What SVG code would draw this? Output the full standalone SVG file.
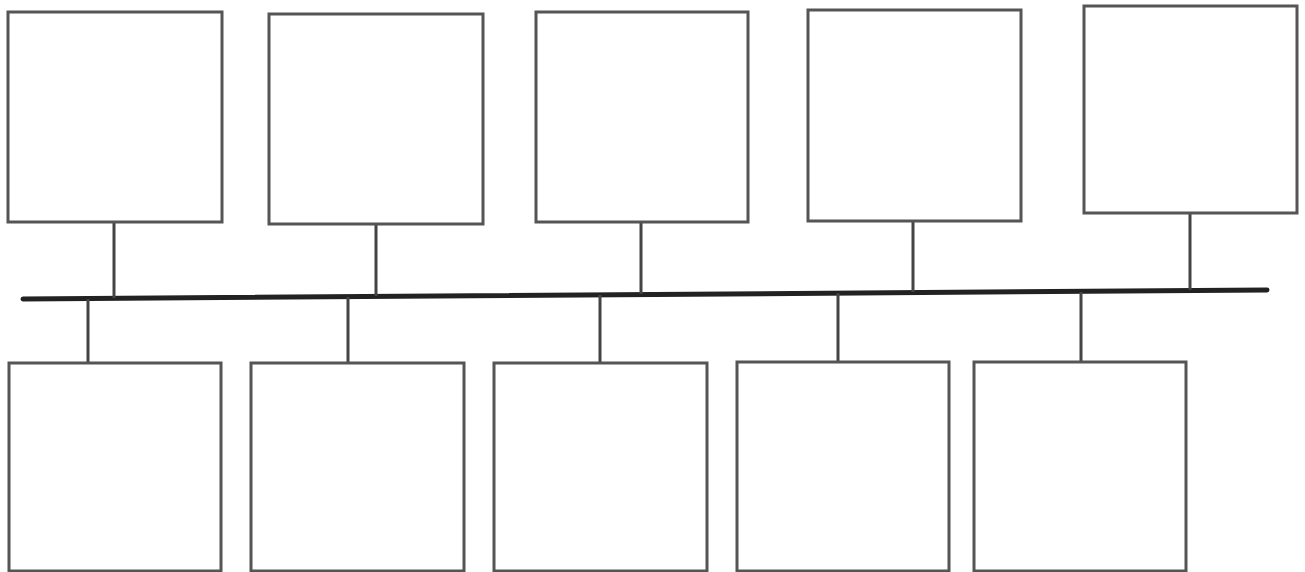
<svg xmlns="http://www.w3.org/2000/svg" width="1305" height="572" viewBox="0 0 1305 572">
<style>
.box{fill:#fff;stroke:#555;stroke-width:3}
.link{stroke:#444;stroke-width:3;fill:none}
.bus{stroke:#222;stroke-width:5;fill:none;stroke-linecap:round}
</style>
<rect width="1305" height="572" fill="#fff"/>
<g id="connectors">
<path class="bus" d="M23 299 L1267 290"/>
<path class="link" d="M114 222 V298 M376 224 V296 M641 222 V294 M913 220 V292 M1190 213 V290"/>
<path class="link" d="M88 299 V363 M348 297 V363 M600 295 V363 M838 293 V362 M1081 292 V362"/>
</g>
<g id="t1"><rect class="box" x="8" y="12" width="214" height="210"/></g>
<g id="t2"><rect class="box" x="269" y="14" width="214" height="210"/></g>
<g id="t3"><rect class="box" x="536" y="12" width="212" height="210"/></g>
<g id="t4"><rect class="box" x="808" y="10" width="213" height="211"/></g>
<g id="t5"><rect class="box" x="1084" y="6" width="213" height="207"/></g>
<g id="b1"><rect class="box" x="9" y="363" width="212" height="208"/></g>
<g id="b2"><rect class="box" x="251" y="363" width="213" height="208"/></g>
<g id="b3"><rect class="box" x="494" y="363" width="213" height="208"/></g>
<g id="b4"><rect class="box" x="737" y="362" width="212" height="209"/></g>
<g id="b5"><rect class="box" x="974" y="362" width="212" height="209"/></g>
</svg>
